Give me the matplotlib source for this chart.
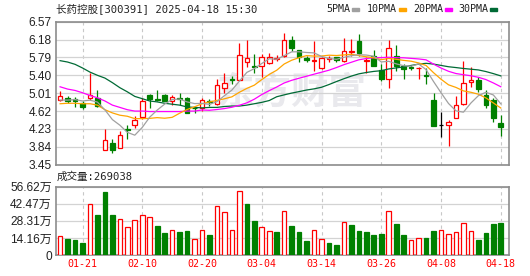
import matplotlib.pyplot as plt
from matplotlib.patches import Rectangle
import numpy as np

# trading days shown on the chart
dates = ['01-16', '01-17', '01-20', '01-21', '01-22', '01-23', '01-24', '01-27',
         '02-05', '02-06', '02-07', '02-10', '02-11', '02-12', '02-13', '02-14',
         '02-17', '02-18', '02-19', '02-20', '02-21', '02-24', '02-25', '02-26',
         '02-27', '02-28', '03-03', '03-04', '03-05', '03-06', '03-07', '03-10',
         '03-11', '03-12', '03-13', '03-14', '03-17', '03-18', '03-19', '03-20',
         '03-21', '03-24', '03-25', '03-26', '03-27', '03-28', '03-31', '04-01',
         '04-02', '04-03', '04-07', '04-08', '04-09', '04-10', '04-11', '04-14',
         '04-15', '04-16', '04-17', '04-18']

opens = [4.87, 4.91, 4.89, 4.80, 4.91, 4.91, 3.78, 3.93, 3.82, 4.23,
         4.31, 4.49, 4.96, 4.88, 4.96, 4.85, 4.91, 4.91, 4.69, 4.69,
         4.83, 4.78, 5.12, 5.32, 5.29, 5.69, 5.60, 5.60, 5.66, 5.76,
         5.82, 6.16, 5.96, 5.77, 5.72, 5.56, 5.75, 5.80, 5.72, 5.91,
         6.14, 5.72, 5.82, 5.51, 5.31, 5.82, 5.60, 5.59, 5.55, 5.40,
         4.87, 4.31, 4.31, 4.47, 4.78, 5.26, 5.30, 4.97, 4.87, 4.36]
highs = [5.05, 4.94, 4.92, 4.85, 5.45, 5.07, 4.23, 4.00, 4.18, 4.31,
         4.51, 4.90, 5.00, 5.09, 5.00, 4.96, 5.02, 4.93, 4.73, 4.91,
         4.89, 5.31, 5.45, 5.38, 6.10, 6.17, 5.87, 5.87, 5.88, 5.85,
         6.33, 6.25, 5.96, 5.83, 6.14, 5.79, 5.83, 5.80, 6.22, 6.19,
         6.30, 5.79, 5.96, 5.64, 6.16, 6.06, 5.64, 5.63, 5.58, 5.57,
         5.02, 4.60, 4.42, 4.94, 5.71, 5.58, 5.37, 5.07, 4.91, 4.54]
lows = [4.84, 4.80, 4.70, 4.67, 4.87, 4.70, 3.77, 3.71, 3.82, 4.02,
        4.25, 4.44, 4.68, 4.84, 4.84, 4.76, 4.75, 4.57, 4.58, 4.63,
        4.73, 4.75, 5.02, 5.20, 5.29, 5.58, 5.46, 5.37, 5.64, 5.71,
        5.81, 5.93, 5.70, 5.70, 5.49, 5.54, 5.70, 5.68, 5.70, 5.83,
        5.83, 5.45, 5.60, 5.28, 5.12, 5.49, 5.31, 5.52, 5.31, 5.22,
        4.30, 4.05, 3.85, 4.47, 4.75, 5.14, 5.04, 4.68, 4.39, 4.07]
closes = [4.94, 4.84, 4.83, 4.70, 4.98, 4.73, 3.99, 3.77, 4.09, 4.20,
          4.42, 4.84, 4.89, 4.86, 4.85, 4.92, 4.89, 4.58, 4.68, 4.87,
          4.81, 5.18, 5.24, 5.29, 5.84, 5.77, 5.59, 5.80, 5.81, 5.78,
          6.17, 6.00, 5.81, 5.73, 5.74, 5.78, 5.77, 5.73, 5.94, 5.93,
          5.88, 5.73, 5.60, 5.32, 6.00, 5.60, 5.53, 5.55, 5.56, 5.38,
          4.30, 4.31, 4.38, 4.75, 5.24, 5.30, 5.11, 4.75, 4.46, 4.27]
# volume in 万 shares
volumes = [15.7, 13.3, 12.4, 10.2, 42.3, 33.4, 52.2, 33.4, 29.8, 22.9,
           29.0, 33.1, 31.2, 24.0, 18.5, 20.7, 19.1, 19.9, 13.3, 20.7,
           16.6, 40.6, 35.6, 20.7, 53.0, 42.3, 28.2, 22.9, 19.9, 19.3,
           36.3, 24.0, 19.1, 11.6, 20.4, 13.0, 9.9, 8.3, 27.1, 24.9,
           19.9, 19.1, 16.6, 17.4, 36.2, 25.7, 16.6, 12.2, 13.8, 14.1,
           19.9, 20.4, 17.1, 18.8, 26.2, 19.6, 12.4, 18.2, 25.7, 26.9]
last_volume = 269038

ma5_head = [4.86, 4.86, 4.87, 4.84]
ma10_head = [4.78, 4.79, 4.79, 4.78, 4.78, 4.75, 4.65, 4.58, 4.53]
ma20_head = [5.15, 5.10, 5.07, 5.02, 4.96, 4.91, 4.84, 4.75, 4.70, 4.65,
             4.62, 4.62, 4.61, 4.61, 4.61, 4.61, 4.61, 4.62, 4.62]
ma30_head = [5.72, 5.69, 5.64, 5.56, 5.47, 5.40, 5.34, 5.24, 5.13, 5.04,
             4.94, 4.89, 4.84, 4.82, 4.79, 4.77, 4.75, 4.71, 4.70, 4.69,
             4.70, 4.70, 4.72, 4.73, 4.73, 4.75, 4.78, 4.81, 4.85]

price_ticks = [3.45, 3.84, 4.23, 4.62, 5.01, 5.40, 5.79, 6.18, 6.57]
vol_ticks = [0, 14.16, 28.31, 42.47, 56.62]
label_dates = ['01-21', '02-10', '02-20', '03-04', '03-14', '03-26', '04-08', '04-18']

RED = '#ff0000'
GREEN = '#008000'
GRID = '#d3d3d3'
BORDER = '#8c8c8c'
TXT = '#222222'


def moving_average(values, n, head):
    out = list(head)
    for i in range(len(head), len(values)):
        out.append(sum(values[i - n + 1:i + 1]) / n)
    return out


W, H = 530, 276
fig = plt.figure(figsize=(W / 100, H / 100), dpi=100)
ax1 = fig.add_axes([56 / W, 1 - 164.7 / H, 453 / W, 143 / H])
ax2 = fig.add_axes([56 / W, 1 - 255 / H, 453 / W, 68.3 / H])

x = np.arange(len(dates))
label_idx = [dates.index(d) for d in label_dates]

for ax in (ax1, ax2):
    ax.set_xlim(-0.55, len(dates) + 0.1)
    for s in ax.spines.values():
        s.set_color(BORDER)
        s.set_linewidth(1.2)
    for i in label_idx:
        ax.axvline(i, color='#c8c8c8', lw=0.8, dashes=(3, 3), zorder=0)
    ax.grid(axis='y', color=GRID, lw=0.9, zorder=0)
    ax.set_axisbelow(True)
    ax.tick_params(length=0, pad=3)

# watermark
ax1.text(0.52, 0.5, '东方财富', transform=ax1.transAxes, fontsize=27,
         fontweight='bold', color='#e9e9ed', ha='center', va='center',
         family='Noto Sans CJK SC', zorder=0, style='italic')

# candles
for i in x:
    o, h, l, c = opens[i], highs[i], lows[i], closes[i]
    if c > o:
        col, face = RED, 'white'
    elif c < o:
        col, face = GREEN, GREEN
    else:
        col, face = 'black', 'black'
    ax1.vlines(i, l, h, color=col, lw=0.9, zorder=3)
    if c != o:
        ax1.bar(i, abs(c - o), bottom=min(o, c), width=0.62, facecolor=face,
                edgecolor=col, linewidth=0.9, zorder=4)
    else:
        ax1.hlines(c, i - 0.33, i + 0.33, color=col, lw=0.9, zorder=4)

ma_specs = [(5, ma5_head, '#a0a0a0'), (10, ma10_head, '#ffa500'),
            (20, ma20_head, '#ff00ff'), (30, ma30_head, '#006a35')]
for n, head, col in reversed(ma_specs):
    ax1.plot(x, moving_average(closes, n, head), color=col, lw=0.9, zorder=5)

ax1.set_ylim(price_ticks[0], price_ticks[-1])
ax1.set_yticks(price_ticks)
ax1.set_yticklabels(['%.2f' % p for p in price_ticks], fontsize=8.6,
                    family='Liberation Sans', color=TXT)
ax1.set_xticks([])

# volume bars
for i in x:
    prev = closes[i - 1] if i > 0 else opens[i]
    if closes[i] >= prev:
        ax2.bar(i, volumes[i], width=0.62, facecolor='white', edgecolor=RED,
                linewidth=0.9, zorder=3)
    else:
        ax2.bar(i, volumes[i], width=0.62, facecolor=GREEN, edgecolor=GREEN,
                linewidth=0.9, zorder=3)

ax2.set_ylim(0, vol_ticks[-1])
ax2.set_yticks(vol_ticks)
ax2.set_yticklabels(['0' if v == 0 else '%.2f万' % v for v in vol_ticks],
                    fontsize=8.6, family=['Liberation Sans', 'Noto Sans CJK SC'],
                    color=TXT)
ax2.set_xticks(label_idx)
ax2.set_xticklabels(label_dates, fontsize=7.2, family='DejaVu Sans Mono', color=RED)
ax2.tick_params(axis='x', pad=3)

# header texts
mono_cjk = ['DejaVu Sans Mono', 'Noto Sans CJK SC']
fig.text(56 / W, 1 - 9 / H, '长药控股[300391] 2025-04-18 15:30', fontsize=7.6,
         family=mono_cjk, color=TXT, va='center', ha='left')
fig.text(57 / W, 1 - 177 / H, '成交量:%d' % last_volume, fontsize=7.6,
         family=mono_cjk, color=TXT, va='center', ha='left')

legend_items = [('5PMA', 326, '#a0a0a0'), ('10PMA', 367, '#ffa500'),
                ('20PMA', 413, '#ff00ff'), ('30PMA', 458, '#006a35')]
for name, px, col in legend_items:
    fig.text(px / W, 1 - 9.5 / H, name, fontsize=7.2, family='DejaVu Sans Mono',
             color=TXT, va='center', ha='left')
    dash_x = px + len(name) * 6.0 + 2
    fig.patches.append(Rectangle((dash_x / W, 1 - 11 / H), 7 / W, 3 / H,
                                 transform=fig.transFigure, color=col))

fig.savefig('out.png', dpi=100)
